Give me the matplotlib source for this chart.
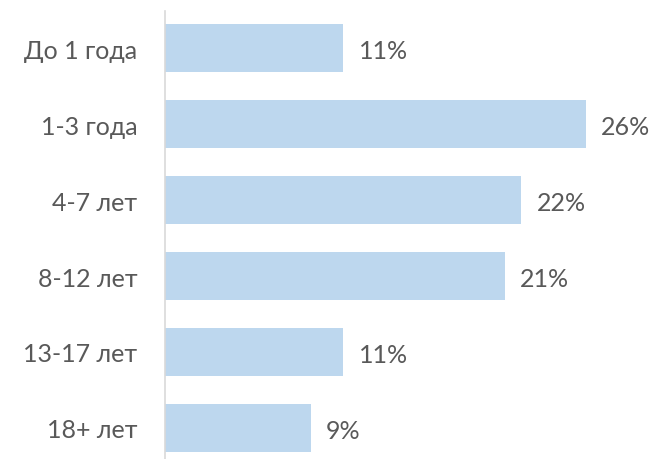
import matplotlib
matplotlib.use('Agg')
import matplotlib.pyplot as plt

# data
categories = ['До 1 года', '1-3 года', '4-7 лет', '8-12 лет', '13-17 лет', '18+ лет']
values = [11, 26, 22, 21, 11, 9]

plt.rcParams['font.family'] = ['Lato', 'DejaVu Sans']

fig = plt.figure(figsize=(6.59, 4.60), dpi=100)
ax = fig.add_axes([165 / 659, 0, 494 / 659, 448 / 460])

pos = range(len(categories))
ax.barh(pos, values, height=0.63, color='#BDD7EE')

for p, v in zip(pos, values):
    ax.text(v + 0.95, p + 0.03, f'{v}%', va='center', ha='left', fontsize=18, color='#595959')

ax.set_xlim(0, 494 / 16.19)
ax.set_ylim(5.408, -0.487)
ax.set_yticks(list(pos))
ax.set_yticklabels(categories, fontsize=18, color='#595959')
ax.tick_params(axis='y', length=0, pad=20)
ax.set_xticks([])

for s in ['top', 'right', 'bottom']:
    ax.spines[s].set_visible(False)
ax.spines['left'].set_color('#D9D9D9')
ax.spines['left'].set_linewidth(1.2)

plt.savefig('out.png', dpi=100)
